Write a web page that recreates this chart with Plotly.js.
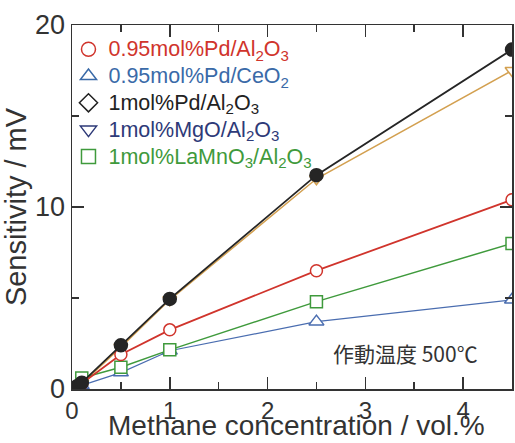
<!DOCTYPE html>
<html>
<head>
<meta charset="utf-8">
<script src="https://cdn.plot.ly/plotly-3.0.1.min.js"></script>
<style>html,body{margin:0;padding:0;background:#fff;}#chart{width:515px;height:443px;}</style>
</head>
<body>
<div id="chart"></div>
<script>
// Data
const xRed = [0, 0.1, 0.5, 1, 2.5, 4.5];
const yRed = [0, 0.3, 1.9, 3.25, 6.5, 10.4];        // 0.95mol%Pd/Al2O3
const xBlue = [0, 0.1, 0.5, 1, 2.5, 4.5];
const yBlue = [0, 0.2, 0.9, 2.1, 3.7, 4.9];         // 0.95mol%Pd/CeO2
const xBlack = [0, 0.05, 0.1, 0.5, 1, 2.5, 4.5];
const yBlack = [0, 0.15, 0.35, 2.4, 4.95, 11.75, 18.65]; // 1mol%Pd/Al2O3
const xOrange = [0, 0.1, 0.5, 1, 2.5, 4.5];
const yOrange = [0, 0.3, 2.3, 4.9, 11.55, 17.5];    // 1mol%MgO/Al2O3
const xGreen = [0.1, 0.5, 1, 2.5, 4.5];
const yGreen = [0.6, 1.2, 2.15, 4.8, 8.0];          // 1mol%LaMnO3/Al2O3

const legendNames = [
  '0.95mol%Pd/Al<sub>2</sub>O<sub>3</sub>',
  '0.95mol%Pd/CeO<sub>2</sub>',
  '1mol%Pd/Al<sub>2</sub>O<sub>3</sub>',
  '1mol%MgO/Al<sub>2</sub>O<sub>3</sub>',
  '1mol%LaMnO<sub>3</sub>/Al<sub>2</sub>O<sub>3</sub>'
];
const legendColors = ['#d0342c', '#3a6aa8', '#222222', '#2e3a78', '#3f9a3c'];
const legendSymbols = ['circle-open', 'triangle-up-open', 'diamond-open', 'triangle-down-open', 'square-open'];

const xTitle = 'Methane concentration / vol.%';
const yTitle = 'Sensitivity / mV';
const noteText = '作動温度 500℃';

const cRed = '#d0342c', cBlue = '#4a6db0', cBlack = '#252525', cOrange = '#d3a050', cGreen = '#3f9a3c';

const traces = [];
function line(x, y, color, sym, size, fill, lw) {
  return {
    x: x, y: y, type: 'scatter', mode: 'lines+markers', showlegend: false,
    line: {color: color, width: lw},
    marker: {symbol: sym, size: size, color: fill, line: {color: color, width: 1.5}},
    hoverinfo: 'skip'
  };
}
traces.push(line(xOrange, yOrange, cOrange, 'triangle-down', 12, '#ffffff', 1.5));
traces.push(line(xBlue, yBlue, cBlue, 'triangle-up', 13, '#ffffff', 1.2));
traces.push(line(xGreen, yGreen, cGreen, 'square', 12, '#ffffff', 1.5));
traces.push(line(xRed, yRed, cRed, 'circle', 12, '#ffffff', 1.8));
traces.push(line(xBlack, yBlack, cBlack, 'circle', 13, cBlack, 1.8));

legendNames.forEach(function(n, i) {
  traces.push({
    x: [null], y: [null], type: 'scatter', mode: 'markers',
    name: '<span style="color:' + legendColors[i] + ';font-size:21.5px">' + n + '</span>',
    marker: {symbol: legendSymbols[i], size: 14, color: legendColors[i], line: {width: 1.5, color: legendColors[i]}}
  });
});

const layout = {
  width: 515, height: 443,
  margin: {l: 72, r: 3, t: 25, b: 54},
  paper_bgcolor: '#ffffff', plot_bgcolor: '#ffffff',
  font: {family: 'Liberation Sans, Arial, sans-serif', color: '#333333'},
  showlegend: true,
  legend: {
    x: -0.008, y: 0.984, xanchor: 'left', yanchor: 'top',
    bgcolor: 'rgba(0,0,0,0)', font: {size: 18.3}, traceorder: 'normal',
    itemwidth: 30
  },
  xaxis: {
    range: [0, 4.5], dtick: 1, tick0: 0,
    showgrid: false, zeroline: false,
    showline: true, linecolor: '#333333', linewidth: 1.5, mirror: 'allticks',
    ticks: 'inside', ticklen: 12, tickwidth: 1.5, tickcolor: '#333333',
    minor: {dtick: 0.5, ticks: 'inside', ticklen: 7, tickwidth: 1.5, tickcolor: '#333333', showgrid: false},
    tickfont: {size: 24, color: '#333333'}
  },
  yaxis: {
    range: [0, 20], dtick: 10, tick0: 0,
    showgrid: false, zeroline: false,
    showline: true, linecolor: '#333333', linewidth: 1.5, mirror: 'allticks',
    ticks: 'inside', ticklen: 12, tickwidth: 1.5, tickcolor: '#333333',
    minor: {dtick: 5, ticks: 'inside', ticklen: 7, tickwidth: 1.5, tickcolor: '#333333', showgrid: false},
    tickfont: {size: 27, color: '#333333'},
    title: {text: yTitle, font: {size: 29, color: '#333333'}}
  },
  annotations: [{
    text: noteText, xref: 'paper', yref: 'paper', x: 0.927, y: 0.10,
    xanchor: 'right', yanchor: 'middle', showarrow: false,
    font: {size: 21, color: '#333333', family: 'Noto Sans CJK JP, sans-serif'}
  }, {
    text: xTitle, xref: 'paper', yref: 'paper', x: 0.51, y: -0.099,
    xanchor: 'center', yanchor: 'middle', showarrow: false,
    font: {size: 28, color: '#333333'}
  }]
};

Plotly.newPlot('chart', traces, layout, {displayModeBar: false, staticPlot: true});
</script>
</body>
</html>
